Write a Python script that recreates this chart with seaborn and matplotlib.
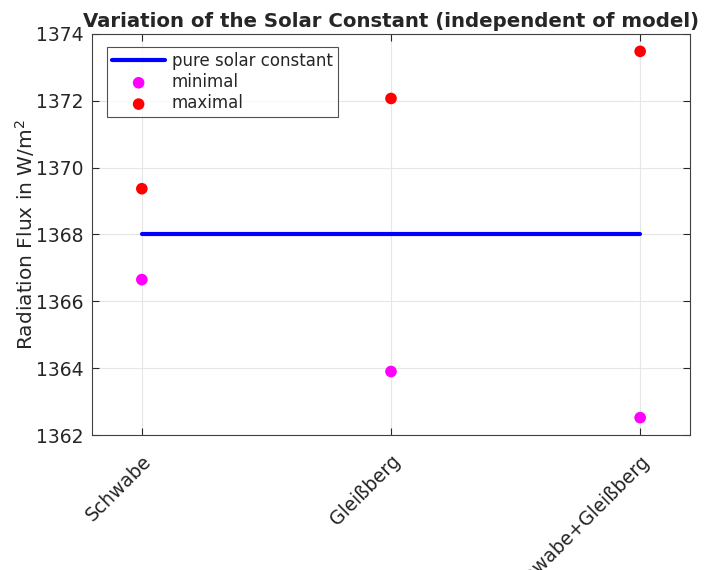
import matplotlib
matplotlib.use("Agg")
import matplotlib.pyplot as plt
import pandas as pd
import seaborn as sns

# data
categories = ["Schwabe", "Gleißberg", "Schwabe+Gleißberg"]
positions = [1, 2, 3]
solar_constant = [1368.0, 1368.0, 1368.0]
minimal = [1366.65, 1363.90, 1362.52]
maximal = [1369.37, 1372.07, 1373.48]
y_ticks = [1362, 1364, 1366, 1368, 1370, 1372, 1374]

df = pd.DataFrame(
    {"pos": positions, "const": solar_constant, "min": minimal, "max": maximal}
)

sns.set_style("white")
plt.rcParams["font.family"] = ["DejaVu Sans"]

fig = plt.figure(figsize=(7.05, 5.70), dpi=100, facecolor="w")
ax = fig.add_axes([0.1305, 0.2368, 0.8482, 0.7036])

sns.lineplot(data=df, x="pos", y="const", color="#0000FF", linewidth=3,
             label="pure solar constant", ax=ax)
sns.scatterplot(data=df, x="pos", y="min", color="#FF00FF", s=70,
                edgecolor="none", label="minimal", ax=ax)
sns.scatterplot(data=df, x="pos", y="max", color="#FF0000", s=70,
                edgecolor="none", label="maximal", ax=ax)

ax.set_xlim(0.8, 3.2)
ax.set_ylim(1362, 1374)
ax.set_xticks(positions)
ax.set_xticklabels(categories, rotation=45, ha="right", rotation_mode="anchor",
                   fontsize=13.5, color="#262626")
ax.set_yticks(y_ticks)
ax.tick_params(axis="y", labelsize=13.5, labelcolor="#262626", pad=6)
ax.tick_params(axis="x", pad=12)
ax.tick_params(axis="both", direction="in", length=5, width=0.8, color="#262626",
               top=True, right=True, bottom=True, left=True)
ax.grid(True, color="#E6E6E6", linewidth=0.8)
ax.set_axisbelow(True)
for sp in ax.spines.values():
    sp.set_color("#404040")
    sp.set_linewidth(0.8)

ax.set_xlabel("")
ax.set_ylabel("Radiation Flux in W/m$^2$", fontsize=14.5, color="#262626",
              labelpad=-1)
ax.set_title("Variation of the Solar Constant (independent of model)",
             fontsize=14.2, fontweight="bold", pad=5)

leg = ax.legend(loc="upper left", bbox_to_anchor=(0.025, 0.968), fontsize=12,
                frameon=True, fancybox=False, edgecolor="#262626",
                handlelength=3.2, borderpad=0.3, labelspacing=0.2,
                handletextpad=0.4, borderaxespad=0)
leg.get_frame().set_linewidth(0.8)

fig.savefig("out.png", dpi=100)
